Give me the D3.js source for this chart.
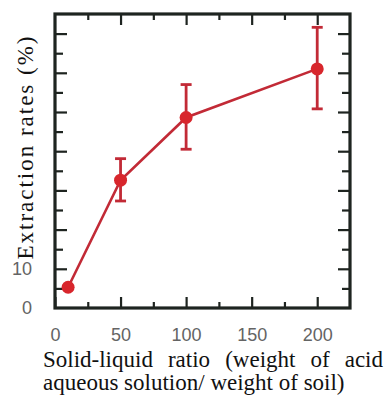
<!DOCTYPE html>
<html>
<head>
<meta charset="utf-8">
<script src="https://cdn.jsdelivr.net/npm/d3@7"></script>
<style>
  body { margin: 0; background: #fff; }
  .tick-label { font-family: "Liberation Sans", Arial, sans-serif; font-size: 18px; fill: #646464; }
  .title { font-family: "Liberation Serif", "Times New Roman", serif; fill: #111; font-size: 23px; }
</style>
</head>
<body>
<div id="chart"></div>
<script>
// Chart data
const ratios = [10, 50, 100, 200];
const rates = [5.3, 32.6, 48.6, 61.0];
const ratesLow = [5.3, 27.3, 40.5, 50.8];
const ratesHigh = [5.3, 38.1, 57.0, 71.6];

// Ticks
const xTicksMajor = [0, 50, 100, 150, 200];
const xTicksMinor = [25, 75, 125, 175];
const yTicks = [5, 10, 15, 20, 25, 30, 35, 40, 45, 50, 55, 60, 65, 70];
const yLabels = [0, 10];

const W = 386, H = 399;
const margin = { top: 14, right: 36, bottom: 91, left: 55 };
const width = W - margin.left - margin.right;
const height = H - margin.top - margin.bottom;

const lineColor = "#c22a36";
const dotColor = "#d8262c";

const svg = d3.select("#chart").append("svg")
  .attr("width", W)
  .attr("height", H);

const g = svg.append("g")
  .attr("transform", "translate(" + margin.left + "," + margin.top + ")");

// Scales
const x = d3.scaleLinear().domain([0, 225]).range([0, width]);
const y = d3.scaleLinear().domain([0, 75]).range([height, 0]);

// Tick length: long for majors, short for minors
const xLen = d => (d % 50 === 0 ? 11 : 6);
const yLen = d => (d % 10 === 0 ? 12 : 8);

// Bottom axis with labels
const gBottom = g.append("g")
  .attr("transform", "translate(0," + height + ")")
  .call(d3.axisBottom(x).tickValues(xTicksMajor.concat(xTicksMinor))
    .tickFormat(d => (d % 50 === 0 ? d : ""))
    .tickSizeOuter(0).tickPadding(14));
gBottom.selectAll(".tick line").attr("y2", d => -xLen(d));
gBottom.selectAll(".tick text").attr("class", "tick-label");

// Top axis, ticks only
const gTop = g.append("g")
  .call(d3.axisTop(x).tickValues(xTicksMajor.slice(1).concat(xTicksMinor))
    .tickFormat("").tickSizeOuter(0));
gTop.selectAll(".tick line").attr("y2", d => xLen(d));

// Left axis with labels at 0 and 10
const gLeft = g.append("g")
  .call(d3.axisLeft(y).tickValues([0].concat(yTicks))
    .tickFormat(d => (yLabels.includes(d) ? d : ""))
    .tickSizeOuter(0).tickPadding(17));
gLeft.selectAll(".tick line").attr("x2", d => (d === 0 ? 0 : yLen(d)));
gLeft.selectAll(".tick text").attr("class", "tick-label");

// Right axis, ticks only
const gRight = g.append("g")
  .attr("transform", "translate(" + width + ",0)")
  .call(d3.axisRight(y).tickValues(yTicks).tickFormat("").tickSizeOuter(0));
gRight.selectAll(".tick line").attr("x2", d => -yLen(d));

[gBottom, gTop, gLeft, gRight].forEach(a => {
  a.select(".domain").remove();
  a.selectAll(".tick line").attr("stroke", "#1e2420").attr("stroke-width", 2.2);
});

// Frame
g.append("rect")
  .attr("width", width)
  .attr("height", height)
  .attr("fill", "none")
  .attr("stroke", "#1e2420")
  .attr("stroke-width", 3.2);

const points = ratios.map((r, i) => ({ x: r, y: rates[i], lo: ratesLow[i], hi: ratesHigh[i] }));

// Connecting line
g.append("path")
  .datum(points)
  .attr("fill", "none")
  .attr("stroke", lineColor)
  .attr("stroke-width", 2.6)
  .attr("d", d3.line().x(d => x(d.x)).y(d => y(d.y)));

// Error bars
const err = g.selectAll(".err")
  .data(points.filter(d => d.hi > d.lo))
  .enter().append("g")
  .attr("stroke", lineColor)
  .attr("stroke-width", 2.8);
err.append("line")
  .attr("x1", d => x(d.x)).attr("x2", d => x(d.x))
  .attr("y1", d => y(d.lo)).attr("y2", d => y(d.hi));
err.append("line")
  .attr("x1", d => x(d.x) - 5.5).attr("x2", d => x(d.x) + 5.5)
  .attr("y1", d => y(d.hi)).attr("y2", d => y(d.hi));
err.append("line")
  .attr("x1", d => x(d.x) - 5.5).attr("x2", d => x(d.x) + 5.5)
  .attr("y1", d => y(d.lo)).attr("y2", d => y(d.lo));

// Dots
g.selectAll("circle")
  .data(points)
  .enter().append("circle")
  .attr("cx", d => x(d.x))
  .attr("cy", d => y(d.y))
  .attr("r", 6.5)
  .attr("fill", dotColor);

// Y title
svg.append("text")
  .attr("class", "title")
  .attr("transform", "translate(33,148) rotate(-90)")
  .attr("text-anchor", "middle")
  .attr("textLength", 223)
  .attr("lengthAdjust", "spacing")
  .text("Extraction rates (%)");

// X title, two lines; first line justified by widening word gaps
const line1 = svg.append("text")
  .attr("class", "title")
  .attr("x", 43).attr("y", 367)
  .text("Solid-liquid ratio (weight of acid");
const natural = line1.node().getComputedTextLength();
const gaps = line1.text().split(" ").length - 1;
line1.style("word-spacing", Math.max(0, (340 - natural) / gaps) + "px");

svg.append("text")
  .attr("class", "title")
  .attr("x", 43).attr("y", 390)
  .text("aqueous solution/ weight of soil)");
</script>
</body>
</html>
